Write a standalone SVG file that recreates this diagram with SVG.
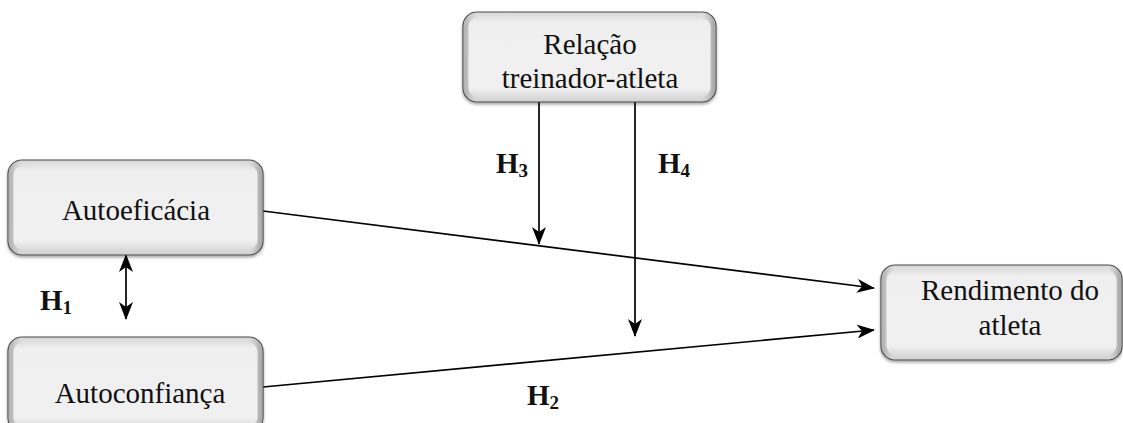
<svg xmlns="http://www.w3.org/2000/svg" width="1123" height="423" viewBox="0 0 1123 423">
<defs>
<style>
.box{fill:url(#g);stroke:#4a4a4a;stroke-width:1.2;filter:url(#sh)}
.inner{fill:none;stroke:url(#g2);stroke-width:5;opacity:0.6}
.t{font-family:"Liberation Serif","Times New Roman",serif;font-size:29px;fill:#111;text-anchor:middle}
.h{font-family:"Liberation Serif","Times New Roman",serif;font-size:29px;font-weight:bold;fill:#111}
.c{stroke:#000;stroke-width:1.7;fill:none}
</style>
<linearGradient id="g" x1="0" y1="0" x2="0" y2="1">
<stop offset="0" stop-color="#d6d6d6"/>
<stop offset="0.12" stop-color="#efefef"/>
<stop offset="0.85" stop-color="#f0f0f0"/>
<stop offset="1" stop-color="#cfcfcf"/>
</linearGradient>
<linearGradient id="g2" x1="0" y1="0" x2="1" y2="0">
<stop offset="0" stop-color="#909090"/>
<stop offset="0.06" stop-color="#efefef" stop-opacity="0"/>
<stop offset="0.94" stop-color="#efefef" stop-opacity="0"/>
<stop offset="1" stop-color="#808080"/>
</linearGradient>
<filter id="sh" x="-5%" y="-5%" width="110%" height="120%">
<feDropShadow dx="0" dy="2" stdDeviation="1.5" flood-color="#000" flood-opacity="0.35"/>
</filter>
<marker id="a" viewBox="0 0 18 14" refX="17" refY="7" markerWidth="18" markerHeight="14" markerUnits="userSpaceOnUse" orient="auto-start-reverse">
<path d="M0,0 L18,7 L0,14 L5,7 z" fill="#000"/>
</marker>
</defs>
<rect width="1123" height="423" fill="#fff"/>

<g id="connectors">
<line class="c" x1="263" y1="211" x2="874" y2="288" marker-end="url(#a)"/>
<line class="c" x1="263" y1="387" x2="874" y2="330" marker-end="url(#a)"/>
<line class="c" x1="539" y1="102" x2="539" y2="244" marker-end="url(#a)"/>
<line class="c" x1="635" y1="102" x2="635" y2="336" marker-end="url(#a)"/>
<line class="c" x1="126" y1="255" x2="126" y2="319" marker-start="url(#a)" marker-end="url(#a)"/>
</g>

<g id="labels">
<text class="h" x="40" y="310">H<tspan font-size="19" dy="4">1</tspan></text>
<text class="h" x="527" y="405">H<tspan font-size="19" dy="4">2</tspan></text>
<text class="h" x="496" y="173">H<tspan font-size="19" dy="4">3</tspan></text>
<text class="h" x="658" y="173">H<tspan font-size="19" dy="4">4</tspan></text>
</g>

<g id="relacao">
<rect class="box" x="463" y="12" width="253" height="90" rx="14"/>
<rect class="inner" x="466" y="15" width="247" height="84" rx="12"/>
<text class="t" x="590" y="54">Relação</text>
<text class="t" x="590" y="88">treinador-atleta</text>
</g>

<g id="autoeficacia">
<rect class="box" x="8" y="160" width="255" height="95" rx="14"/>
<rect class="inner" x="11" y="163" width="249" height="89" rx="12"/>
<text class="t" x="136" y="220">Autoeficácia</text>
</g>

<g id="autoconfianca">
<rect class="box" x="8" y="337" width="255" height="95" rx="14"/>
<rect class="inner" x="11" y="340" width="249" height="89" rx="12"/>
<text class="t" x="140" y="403">Autoconfiança</text>
</g>

<g id="rendimento">
<rect class="box" x="881" y="265" width="241" height="95" rx="14"/>
<rect class="inner" x="884" y="268" width="235" height="89" rx="12"/>
<text class="t" x="1010" y="300">Rendimento do</text>
<text class="t" x="1010" y="335">atleta</text>
</g>
</svg>
